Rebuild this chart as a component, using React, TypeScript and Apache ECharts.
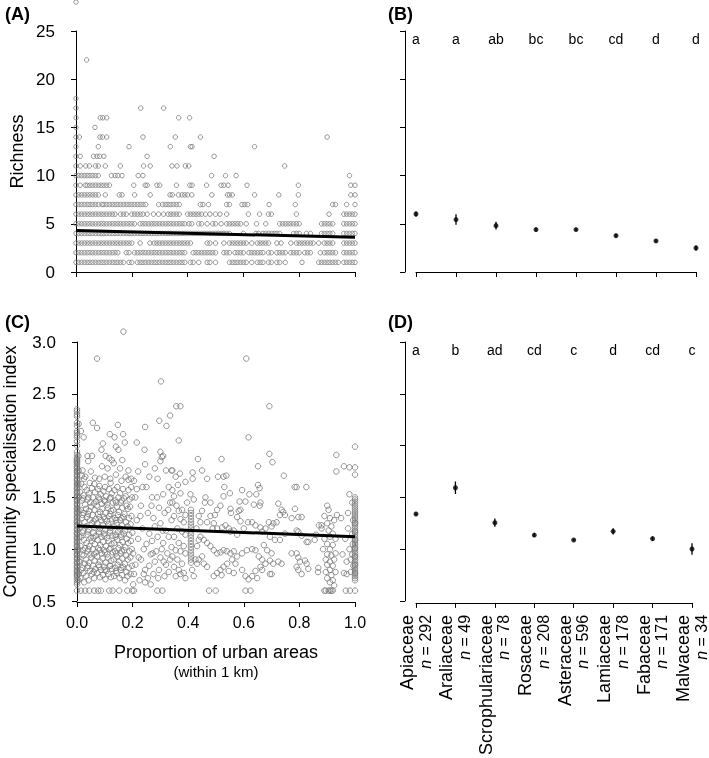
import React, { useEffect, useRef } from "react";
import * as echarts from "echarts";

const FONT = "'Liberation Sans', Arial, Helvetica, sans-serif";

// ---- Panels B / D: families ----
const families = ["Apiaceae", "Araliaceae", "Scrophulariaceae", "Rosaceae", "Asteraceae", "Lamiaceae", "Fabaceae", "Malvaceae"];
const familyN = [292, 49, 78, 208, 596, 178, 171, 34];
const richnessLetters = ["a", "a", "ab", "bc", "bc", "cd", "d", "d"];
const csiLetters = ["a", "b", "ad", "cd", "c", "d", "cd", "c"];
const richnessMean = [6.02, 5.44, 4.81, 4.4, 4.4, 3.77, 3.22, 2.49];
const richnessSE = [0.26, 0.55, 0.4, 0.2, 0.12, 0.2, 0.15, 0.25];
const csiMean = [1.339, 1.593, 1.255, 1.136, 1.088, 1.172, 1.101, 1.001];
const csiSE = [0.015, 0.06, 0.04, 0.018, 0.01, 0.03, 0.022, 0.055];

// ---- Panel A: richness (integer levels) vs proportion urban (x in percent) ----
const richnessLevels = [1, 2, 3, 4, 5, 6, 7, 8, 9, 10, 11, 12, 13, 14, 15, 16, 17, 18, 22, 28];
const richnessX = [
  [0, 1, 2, 3, 4, 5, 6, 7, 8, 9, 10, 11, 12, 13, 14, 15, 16, 17, 19, 20, 22, 23, 24, 25, 26, 27, 28, 29, 30, 31, 32, 33, 34, 35, 36, 37, 38, 39, 41, 42, 44, 47, 48, 50, 55, 56, 57, 58, 59, 60, 61, 63, 65, 66, 67, 69, 70, 72, 73, 75, 81, 87, 88, 89, 90, 91, 92, 93, 94, 96, 97, 98, 99, 100],
  [0, 1, 2, 3, 4, 5, 6, 7, 8, 9, 10, 11, 12, 13, 14, 15, 18, 19, 21, 22, 23, 24, 25, 26, 27, 28, 29, 30, 31, 32, 33, 34, 35, 36, 37, 38, 39, 42, 43, 44, 45, 46, 47, 48, 49, 50, 53, 54, 55, 57, 58, 59, 60, 62, 63, 64, 65, 66, 67, 69, 70, 72, 73, 74, 75, 77, 78, 79, 80, 82, 83, 84, 87.6, 89, 90, 91, 92, 93, 96, 97, 98, 99, 100],
  [0, 1, 2, 3, 4, 5, 6, 7, 8, 9, 10, 11, 12, 13, 14, 15, 16, 17, 18, 19, 20, 23, 26.5, 28, 29, 30, 31, 32, 33, 34, 35, 36, 37, 38, 39, 40, 41, 47, 48, 50, 53, 55, 56, 57, 58, 59, 60, 61, 63, 65, 66, 67, 68, 69, 72, 73.5, 77, 79, 80, 81, 82, 83, 84, 85, 87, 89, 90, 91, 92, 96, 97, 98, 99, 100],
  [0, 1, 2, 3, 4, 5, 6, 7, 8, 9, 10, 11, 12, 13, 14, 15, 16, 17, 18, 19, 20, 21, 22, 23, 24, 25, 26, 27, 28, 29, 30, 31, 32, 33, 34, 35, 36, 37, 38, 39, 40, 41, 42, 43, 44, 45, 46, 47, 48, 49, 50, 51, 52, 53, 54, 55, 60, 64.5, 65.5, 67, 68, 69, 70, 71, 72, 73, 78, 79, 80, 82.6, 84, 88, 89, 90, 91, 92, 96, 97, 98, 99, 100],
  [0, 1, 2, 3, 4, 5, 6, 7, 8, 9, 10, 11, 12, 13, 14, 15, 16, 17, 18, 19, 20, 21, 23, 24, 25, 26, 27, 28, 29, 30, 31, 32, 33, 34, 35, 36, 37, 38, 39, 40.5, 41.5, 44, 45, 47, 49, 50, 52, 54, 55, 56, 57, 58, 59, 61, 64.7, 68, 73, 74, 75, 76, 77, 78, 79, 80, 88, 89, 90, 91, 92, 96, 97, 98, 99, 100],
  [0, 1, 2, 3, 4, 5, 6, 7, 8, 9, 10, 11, 12, 13, 14, 16, 17, 18, 20, 21, 22, 23, 24, 25.5, 27.8, 29.6, 31.4, 33, 34, 35, 36, 37, 40, 41, 42, 43, 44, 45, 46.4, 48, 50, 51.6, 54, 61.8, 65.8, 69, 70, 79, 90.7, 96, 97, 98, 99, 100],
  [0, 1, 2, 3, 4, 5, 6, 7, 8, 9.3, 10, 11, 12, 13, 14, 15, 16, 17, 18, 19, 20, 21, 22, 23, 24, 25, 29.6, 31, 32, 33, 34, 35, 36, 37, 44.6, 45.5, 47.5, 54, 55, 59.5, 60.5, 61.5, 69.2, 78.6, 92, 93, 97, 100],
  [0, 1, 2, 3, 4, 5, 6, 7, 8, 10.5, 15.5, 16.5, 21, 26.6, 33.7, 34.5, 36.7, 38, 39, 40, 41.5, 48.7, 54.3, 55, 56, 64, 72.7, 79.7, 98.5, 100],
  [0, 1.5, 3.3, 4, 5, 6, 7, 8, 9, 10, 11, 12, 20.7, 24.8, 25.5, 29, 30, 36, 40.8, 41.6, 46.8, 52, 53, 54.5, 61.3, 79.7, 98.5, 100],
  [0, 1, 2, 3, 4, 5, 6, 7, 8, 12.7, 14, 15, 16.5, 22.3, 24, 48.6, 53.6, 57.4, 98],
  [0, 1.5, 3.5, 4.8, 7, 8, 10.5, 15.9, 24.2, 26.6, 34.4, 36.2, 39.2, 40.4, 74.8],
  [0, 1.5, 6.3, 7.5, 8.5, 10, 25.5, 49.5],
  [0, 8, 19, 33.8, 41, 41.6, 64],
  [0, 1.2, 8.6, 9.5, 11, 24, 35.6, 44.6, 90],
  [0, 6.8],
  [0, 8.7, 9.6, 11, 36.8, 40.7],
  [0, 23.2, 31.4],
  [0],
  [3.8],
  [0],
];
const richnessFit = [4.3, 3.6]; // fitted value at x = 0 and x = 1

// ---- Panel C: community specialisation index (y x100) vs proportion urban (x in percent) ----
const csiAtZeroY = [60, 66, 68, 70, 72, 74, 75, 76, 78, 79, 80, 82, 83, 84, 86, 87, 88, 90, 91, 92, 94, 95, 96, 98, 99, 100, 102, 103, 104, 106, 107, 108, 110, 111, 112, 114, 115, 116, 118, 119, 120, 122, 123, 124, 126, 127, 128, 130, 131, 132, 134, 135, 136, 138, 139, 140, 142, 143, 144, 146, 147, 148, 150, 151, 152, 154, 155, 156, 158, 159, 160, 162, 163, 164, 166, 167, 168, 170, 171, 172, 174, 175, 176, 178, 179, 180, 182, 183, 184, 185, 186, 187, 188, 191, 194, 200, 204, 208, 210, 212, 214, 219, 222, 228, 230, 233, 235];
const csiAtOneY = [60, 70, 72, 74, 76, 77, 78, 80, 82, 84, 85, 86, 88, 90, 92, 93, 94, 96, 98, 100, 101, 102, 104, 106, 108, 109, 110, 112, 114, 116, 117, 118, 120, 122, 124, 125, 126, 128, 130, 132, 134, 136, 138, 140, 142, 144, 146, 148, 150, 172, 179, 199];
const csiAt41Y = [138, 135, 132, 129, 126, 123, 120, 117, 114, 111, 108, 105, 102, 99, 96, 93, 90, 87];
const csiPoints = [
  // next to the x = 0 column
  [0.5, 190], [0.6, 176], [0.5, 163], [0.7, 150], [0.5, 138], [0.6, 125], [0.8, 112], [0.5, 100], [0.7, 88], [0.6, 76], [0.5, 70],
  // dense cloud 0.01 - 0.20
  [1.2, 72], [1.5, 80], [1.1, 88], [1.8, 95], [1.3, 103], [1.6, 112], [1.2, 121], [1.9, 130], [1.4, 138], [1.7, 147], [1.1, 155], [1.5, 163], [1.8, 171],
  [2.6, 68], [2.3, 77], [2.8, 86], [2.4, 94], [2.9, 101], [2.5, 109], [2.2, 118], [2.7, 126], [2.4, 135], [2.9, 143], [2.3, 152], [2.7, 160], [2.5, 168],
  [3.3, 74], [3.7, 82], [3.2, 90], [3.8, 98], [3.4, 106], [3.9, 114], [3.3, 122], [3.6, 131], [3.2, 139], [3.8, 148], [3.5, 157],
  [4.2, 70], [4.6, 79], [4.3, 87], [4.8, 95], [4.4, 103], [4.9, 111], [4.2, 119], [4.7, 128], [4.4, 137], [4.8, 145], [4.3, 154], [4.6, 164],
  [5.3, 76], [5.8, 84], [5.2, 92], [5.7, 100], [5.4, 108], [5.9, 116], [5.3, 125], [5.6, 133], [5.1, 141], [5.8, 150], [5.4, 159],
  [6.2, 72], [6.6, 81], [6.3, 89], [6.9, 97], [6.4, 105], [6.8, 113], [6.2, 121], [6.7, 129], [6.3, 138], [6.9, 146], [6.5, 155], [6.2, 163],
  [7.3, 77], [7.8, 85], [7.2, 93], [7.7, 101], [7.4, 109], [7.9, 117], [7.3, 125], [7.6, 134], [7.1, 142], [7.8, 150], [7.5, 158],
  [8.2, 73], [8.6, 80], [8.3, 88], [8.9, 96], [8.4, 104], [8.8, 112], [8.2, 120], [8.7, 128], [8.3, 136], [8.9, 144], [8.5, 153], [8.1, 161],
  [9.3, 75], [9.8, 83], [9.2, 91], [9.7, 99], [9.4, 107], [9.9, 115], [9.3, 123], [9.6, 131], [9.1, 139], [9.8, 147], [9.5, 156],
  [10.2, 71], [10.6, 79], [10.3, 87], [10.9, 95], [10.4, 103], [10.8, 111], [10.2, 119], [10.7, 127], [10.3, 135], [10.9, 143], [10.5, 151], [10.1, 160],
  [11.3, 76], [11.8, 84], [11.2, 92], [11.7, 100], [11.4, 108], [11.9, 116], [11.3, 124], [11.6, 132], [11.1, 140], [11.8, 149], [11.5, 158],
  [12.2, 73], [12.6, 81], [12.3, 89], [12.9, 97], [12.4, 105], [12.8, 113], [12.2, 121], [12.7, 129], [12.3, 137], [12.9, 145], [12.5, 154], [12.1, 164],
  [13.3, 74], [13.8, 82], [13.2, 90], [13.7, 98], [13.4, 106], [13.9, 114], [13.3, 122], [13.6, 130], [13.1, 138], [13.8, 147], [13.5, 157],
  [14.2, 77], [14.6, 85], [14.3, 93], [14.9, 101], [14.4, 109], [14.8, 117], [14.2, 125], [14.7, 133], [14.3, 141], [14.9, 150], [14.5, 160],
  [15.3, 72], [15.8, 80], [15.2, 88], [15.7, 96], [15.4, 104], [15.9, 112], [15.3, 120], [15.6, 128], [15.1, 136], [15.8, 145], [15.5, 154],
  [16.2, 75], [16.6, 83], [16.3, 91], [16.9, 99], [16.4, 107], [16.8, 115], [16.2, 123], [16.7, 131], [16.3, 140], [16.9, 149], [16.5, 158],
  [17.3, 70], [17.8, 78], [17.2, 86], [17.7, 94], [17.4, 102], [17.9, 110], [17.3, 118], [17.6, 126], [17.1, 134], [17.8, 142], [17.5, 151],
  [18.2, 74], [18.6, 82], [18.3, 90], [18.9, 98], [18.4, 106], [18.8, 114], [18.2, 122], [18.7, 130], [18.3, 139], [18.9, 148], [18.5, 157],
  [19.3, 76], [19.8, 84], [19.2, 92], [19.7, 100], [19.4, 108], [19.9, 116], [19.3, 124], [19.6, 132], [19.1, 141], [19.8, 150], [19.5, 160],
  [2.0, 82], [2.1, 99], [1.9, 116], [2.0, 133], [2.2, 149], [4.0, 84], [4.1, 100], [3.9, 117], [4.0, 134], [4.1, 150],
  [6.0, 78], [6.1, 95], [5.9, 111], [6.0, 127], [6.1, 144], [8.0, 83], [8.1, 99], [7.9, 115], [8.0, 131], [8.1, 148],
  [10.0, 80], [10.1, 97], [9.9, 113], [10.0, 129], [10.1, 146], [12.0, 84], [12.1, 101], [11.9, 118], [12.0, 134], [12.1, 150],
  [14.0, 79], [14.1, 96], [13.9, 112], [14.0, 128], [14.1, 145], [16.0, 82], [16.1, 98], [15.9, 114], [16.0, 130], [16.1, 147],
  // sparse upper points
  [0.6, 221], [1.4, 214], [2.4, 208], [5.7, 222], [7.2, 217], [3.8, 190], [5.4, 190], [4, 185], [8.8, 196], [9.3, 202], [11.8, 211], [13.5, 208],
  [14.7, 220], [16.6, 211], [17.2, 203], [14, 199], [14.9, 196], [10.3, 190], [11.6, 188], [12.5, 186], [13.2, 183], [15.5, 178], [16.3, 186],
  [17.5, 170], [18.5, 167], [19.5, 168], [16, 166], [14, 172], [12, 168], [10, 170], [8, 168], [6.5, 169], [3, 170], [5, 175], [2, 176], [9, 180],
  [11, 178], [18.5, 176], [21.5, 203], [24.5, 218], [24.3, 196], [29.6, 224], [30.2, 262], [32.2, 219], [33.5, 229], [30, 194], [31, 190], [34, 176],
  [35.7, 238], [37.2, 238], [36.6, 205], [16.7, 310], [7.2, 284], [60.9, 284], [61.7, 208], [69.2, 238], [69.2, 192], [70.3, 184], [43.5, 187],
  [52, 187], [65.1, 180], [74.4, 171], [78.3, 160], [79, 160], [82.5, 160], [96, 180], [98, 179], [93.3, 191], [93.3, 175],
  // 0.20 - 0.34
  [20.5, 166], [21, 150], [21.5, 128], [22, 110], [20.2, 96], [21, 85], [20.5, 76], [22.5, 70], [20.2, 66], [23, 142], [23.5, 120], [24, 100],
  [23, 90], [24.5, 80], [24, 76], [25, 160], [25.5, 135], [26, 115], [25, 105], [26.5, 95], [26, 84], [25.5, 72], [27, 150], [27.5, 130],
  [28, 122], [27, 108], [28.5, 98], [28, 88], [27.5, 76], [29, 168], [29.5, 140], [30, 125], [29, 112], [30.5, 100], [30, 92], [29.5, 80],
  [31, 153], [31.5, 135], [32, 118], [31, 106], [32.5, 96], [32, 85], [31.5, 74], [33, 160], [33.5, 145], [34, 128], [33, 112], [34, 102],
  [33.5, 90], [33, 78], [22, 175], [24.5, 182], [26, 170], [28, 178], [30, 185], [32, 176], [30.5, 189], [26.5, 66], [24.5, 68], [21.5, 158],
  [22.8, 132], [26.8, 142], [28.8, 150], [30.8, 118], [32.8, 138], [22.2, 92], [27.2, 96], [29.2, 72], [31.2, 88], [23.6, 160],
  // 0.34 - 0.45
  [34.3, 157], [34.9, 151], [34.3, 145], [35.8, 142], [36.6, 137], [37.8, 138], [39, 133], [34.9, 132], [37.2, 129], [38.4, 126], [36.1, 120],
  [37.8, 117], [39, 114], [34.9, 112], [36.6, 106], [38.4, 103], [35.5, 99], [37.2, 98], [39, 96], [34.3, 93], [36.1, 90], [37.8, 86], [34.9, 83],
  [36.6, 80], [38.4, 77], [35.5, 74], [37.2, 76], [39, 72], [41.4, 80], [42, 74], [42.6, 90], [43.2, 103], [43.8, 109], [43, 120], [44.4, 126],
  [43.8, 132], [45, 137], [42, 148], [40.8, 153], [39.6, 145], [34.3, 176], [35.5, 170], [37, 173], [36.3, 162], [37.2, 154], [39, 165], [41.6, 168], [41.6, 174],
  // 0.45 - 0.69
  [45, 176], [46.8, 168], [50.7, 170], [52.7, 170], [53.7, 171], [53, 160], [55, 154], [58.5, 146], [58.8, 138], [59.4, 157], [65.1, 162], [65.7, 159],
  [64.5, 153], [66, 145], [63.6, 143], [65.7, 142], [62, 153], [60.6, 146], [58.2, 137], [57.6, 131], [58.8, 127], [55.2, 139], [55.4, 135], [52.7, 151],
  [51.6, 142], [50.4, 138], [49.6, 133], [48, 132], [46.8, 126], [46, 145], [46.2, 150], [48, 145], [49.2, 125], [48.8, 120], [50.4, 120], [52.2, 121],
  [53.4, 123], [54.6, 120], [55.2, 117], [56.4, 118], [57.6, 114], [60, 120], [61.5, 126], [63, 126], [64.2, 123], [66, 121], [66.6, 117], [67.8, 120],
  [69, 126], [45.6, 109], [46.8, 106], [44.4, 112], [48, 103], [49.2, 99], [50.4, 96], [51.6, 97], [52.7, 99], [53.9, 98], [55.2, 96], [56.4, 98],
  [57.6, 93], [59.4, 96], [61.1, 99], [63, 100], [64.2, 99], [65.4, 93], [66.6, 90], [67.8, 86], [68.4, 99], [67.2, 104], [57, 86], [55.8, 90],
  [54, 86], [52.7, 83], [51.6, 80], [50.4, 77], [49.2, 74], [52, 75], [54.6, 79], [56.4, 77], [59.4, 80], [60.6, 74], [61.7, 71], [63, 74],
  [64.2, 79], [64.8, 72], [66, 83], [66.6, 80], [47.5, 60], [49.9, 60], [60.6, 60], [62.4, 60], [45.6, 86], [46.8, 83], [43.8, 90], [45, 93], [43.2, 86],
  // 0.69 - 0.87
  [72.4, 144], [73.6, 138], [74.2, 136], [74.8, 133], [73, 133], [71.8, 126], [70.6, 125], [70, 122], [69.4, 112], [71.2, 109], [73, 109], [74.8, 115],
  [77.2, 130], [78.4, 139], [79.6, 131], [80.8, 131], [79, 118], [79.6, 117], [80.8, 113], [82.6, 107], [83.2, 107], [85.5, 109], [70, 96], [69.4, 89],
  [70.6, 86], [72.4, 88], [73.6, 86], [77.2, 96], [79, 96], [79.6, 92], [80.2, 88], [82, 89], [82.6, 86], [83.2, 81], [79, 83], [79.6, 80], [80.8, 76],
  [69.4, 76], [70, 76], [86.7, 78], [87, 123], [88, 123], [86, 114], [86.8, 82],
  // 0.87 - 0.94 cluster
  [88, 120], [88.5, 100], [89, 132], [89, 110], [89.5, 90], [89.5, 78], [90, 142], [90, 125], [90, 105], [90, 95], [90, 85], [90, 72], [90.5, 138],
  [90.5, 118], [91, 130], [91, 112], [91, 100], [91, 88], [91, 80], [91, 68], [91.5, 122], [91.5, 94], [91.5, 75], [92, 115], [92, 104], [92, 84],
  [92, 70], [92.5, 128], [92.5, 90], [92.5, 65], [93, 110], [93, 96], [93, 78], [93.5, 133],
  // 0.94 - 0.99
  [95, 130], [95.5, 95], [96, 77], [96.5, 110], [97, 88], [97, 76], [97.5, 135], [97.5, 120], [98, 100], [98, 153], [98.5, 90], [98.5, 78], [99, 145],
  [99, 115], [99, 95], [99.2, 105], [99.3, 128], [99.4, 84],
  // bottom row (0.6)
  [1.4, 60], [2.9, 60], [4.4, 60], [6.2, 60], [7.6, 60], [8.6, 60], [11.6, 60], [12.8, 60], [15.2, 60], [18.1, 60], [19.9, 60], [20.5, 60],
  [28.9, 60], [30.7, 60], [89, 60], [89.5, 60], [90.5, 60], [91, 60], [91.5, 60], [92, 60], [96.7, 60], [98.2, 60],
];
const csiFit = [1.225, 1.12]; // fitted value at x = 0 and x = 1

const black = "#000";
const grey = "#7a7a7a";

export default function App() {
  const ref = useRef<HTMLDivElement>(null);
  useEffect(() => {
    document.body.style.margin = "0";
    if (!ref.current) return;
    const chart = echarts.init(ref.current, null, { renderer: "svg" });

    const richData: number[][] = [];
    richnessLevels.forEach((lv, i) => richnessX[i].forEach((x) => richData.push([x / 100, lv])));
    const csiData: number[][] = [];
    csiAtZeroY.forEach((y) => csiData.push([0, y / 100]));
    csiAtOneY.forEach((y) => csiData.push([1, y / 100]));
    csiAt41Y.forEach((y) => csiData.push([0.41, y / 100]));
    csiPoints.forEach((p) => csiData.push([p[0] / 100, p[1] / 100]));

    const axisLine = { show: true, lineStyle: { color: black, width: 1 } };
    const axisTick = { show: true, length: 5, lineStyle: { color: black, width: 1 } };
    const tickLabel = { color: black, fontFamily: FONT, fontSize: 17 };

    const valueX = (grid: number, showLabels: boolean) => ({
      type: "value",
      gridIndex: grid,
      min: 0,
      max: 1,
      interval: 0.2,
      offset: 2,
      axisLine,
      axisTick,
      splitLine: { show: false },
      axisLabel: { show: showLabels, ...tickLabel, fontSize: 16, margin: 12, formatter: (v: number) => v.toFixed(1) },
    });
    const catX = (grid: number, showLabels: boolean) => ({
      type: "category",
      gridIndex: grid,
      data: families,
      boundaryGap: false,
      offset: 2,
      axisLine,
      axisTick: { ...axisTick, interval: 0 },
      splitLine: { show: false },
      axisLabel: {
        show: showLabels,
        interval: 0,
        rotate: 90,
        margin: 12,
        color: black,
        fontFamily: FONT,
        formatter: (v: string, i: number) => `{f|${v}}\n{i|n}{m| = ${familyN[i]}}`,
        rich: {
          f: { fontSize: 18, fontFamily: FONT, color: black, lineHeight: 18 },
          i: { fontSize: 16, fontFamily: FONT, fontStyle: "italic", color: black, lineHeight: 18 },
          m: { fontSize: 16, fontFamily: FONT, color: black, lineHeight: 18 },
        },
      },
    });
    const letterX = (grid: number, letters: string[]) => ({
      type: "category",
      gridIndex: grid,
      position: "top",
      data: families,
      boundaryGap: false,
      axisLine: { show: false },
      axisTick: { show: false },
      splitLine: { show: false },
      axisLabel: {
        show: true,
        inside: true,
        interval: 0,
        margin: 1,
        color: black,
        fontFamily: FONT,
        fontSize: 14,
        formatter: (_v: string, i: number) => letters[i],
      },
    });

    const errorBars = (xi: number, yi: number, mean: number[], se: number[]) => ({
      type: "custom",
      xAxisIndex: xi,
      yAxisIndex: yi,
      data: mean.map((m, i) => [i, m - se[i], m + se[i]]),
      encode: { x: 0, y: [1, 2] },
      renderItem: (_p: any, api: any) => {
        const lo = api.coord([api.value(0), api.value(1)]);
        const hi = api.coord([api.value(0), api.value(2)]);
        return {
          type: "line",
          shape: { x1: lo[0], y1: lo[1], x2: hi[0], y2: hi[1] },
          style: { stroke: black, lineWidth: 1.3 },
        };
      },
      z: 3,
    });
    const dots = (xi: number, yi: number, mean: number[]) => ({
      type: "scatter",
      xAxisIndex: xi,
      yAxisIndex: yi,
      symbol: "circle",
      symbolSize: 5,
      itemStyle: { color: black },
      data: mean.map((m, i) => [i, m]),
      z: 4,
    });

    chart.setOption({
      animation: false,
      textStyle: { fontFamily: FONT },
      grid: [
        { left: 76, top: 31, width: 279, height: 241 },
        { left: 416, top: 31, width: 280, height: 241 },
        { left: 76, top: 342, width: 279, height: 259 },
        { left: 416, top: 342, width: 280, height: 259 },
      ],
      xAxis: [
        valueX(0, false),
        catX(1, false),
        {
          ...valueX(2, true),
          offset: 1,
          name: "{a|Proportion of urban areas}\n{b|(within 1 km)}",
          nameLocation: "middle",
          nameGap: 40,
          nameTextStyle: {
            rich: {
              a: { fontSize: 18, fontFamily: FONT, color: black, lineHeight: 20 },
              b: { fontSize: 15, fontFamily: FONT, color: black, lineHeight: 18 },
            },
          },
        },
        catX(3, true),
        letterX(1, richnessLetters),
        letterX(3, csiLetters),
      ],
      yAxis: [
        {
          type: "value",
          gridIndex: 0,
          min: 0,
          max: 25,
          interval: 5,
          offset: 13,
          axisLine,
          axisTick,
          splitLine: { show: false },
          axisLabel: { ...tickLabel, margin: 8 },
          name: "Richness",
          nameLocation: "middle",
          nameGap: 37,
          nameTextStyle: { fontSize: 18, fontFamily: FONT, color: black },
        },
        {
          type: "value",
          gridIndex: 1,
          min: 0,
          max: 25,
          interval: 5,
          offset: 11,
          axisLine,
          axisTick,
          splitLine: { show: false },
          axisLabel: { show: false },
        },
        {
          type: "value",
          gridIndex: 2,
          min: 0.5,
          max: 3.0,
          interval: 0.5,
          offset: 13,
          axisLine,
          axisTick,
          splitLine: { show: false },
          axisLabel: { ...tickLabel, margin: 8, formatter: (v: number) => v.toFixed(1) },
          name: "Community specialisation index",
          nameLocation: "middle",
          nameGap: 45,
          nameTextStyle: { fontSize: 18, fontFamily: FONT, color: black },
        },
        {
          type: "value",
          gridIndex: 3,
          min: 0.5,
          max: 3.0,
          interval: 0.5,
          offset: 11,
          axisLine,
          axisTick,
          splitLine: { show: false },
          axisLabel: { show: false },
        },
      ],
      series: [
        {
          type: "scatter",
          xAxisIndex: 0,
          yAxisIndex: 0,
          symbol: "circle",
          symbolSize: 4.5,
          clip: false,
          itemStyle: { color: "rgba(255,255,255,0)", borderColor: grey, borderWidth: 1 },
          data: richData,
          z: 2,
        },
        {
          type: "line",
          xAxisIndex: 0,
          yAxisIndex: 0,
          showSymbol: false,
          symbol: "none",
          lineStyle: { color: black, width: 3 },
          data: [[0, richnessFit[0]], [1, richnessFit[1]]],
          z: 5,
        },
        {
          type: "scatter",
          xAxisIndex: 2,
          yAxisIndex: 2,
          symbol: "circle",
          symbolSize: 5.5,
          clip: false,
          itemStyle: { color: "rgba(255,255,255,0)", borderColor: grey, borderWidth: 1 },
          data: csiData,
          z: 2,
        },
        {
          type: "line",
          xAxisIndex: 2,
          yAxisIndex: 2,
          showSymbol: false,
          symbol: "none",
          lineStyle: { color: black, width: 3 },
          data: [[0, csiFit[0]], [1, csiFit[1]]],
          z: 5,
        },
        errorBars(1, 1, richnessMean, richnessSE),
        dots(1, 1, richnessMean),
        errorBars(3, 3, csiMean, csiSE),
        dots(3, 3, csiMean),
      ],
      graphic: [
        { type: "text", left: 5, top: 5, style: { text: "(A)", font: `bold 18px ${FONT}`, fill: black } },
        { type: "text", left: 388, top: 5, style: { text: "(B)", font: `bold 18px ${FONT}`, fill: black } },
        { type: "text", left: 5, top: 313, style: { text: "(C)", font: `bold 18px ${FONT}`, fill: black } },
        { type: "text", left: 388, top: 313, style: { text: "(D)", font: `bold 18px ${FONT}`, fill: black } },
      ],
    });
    return () => chart.dispose();
  }, []);
  return <div ref={ref} style={{ position: "fixed", left: 0, top: 0, width: 709, height: 758 }} />;
}
